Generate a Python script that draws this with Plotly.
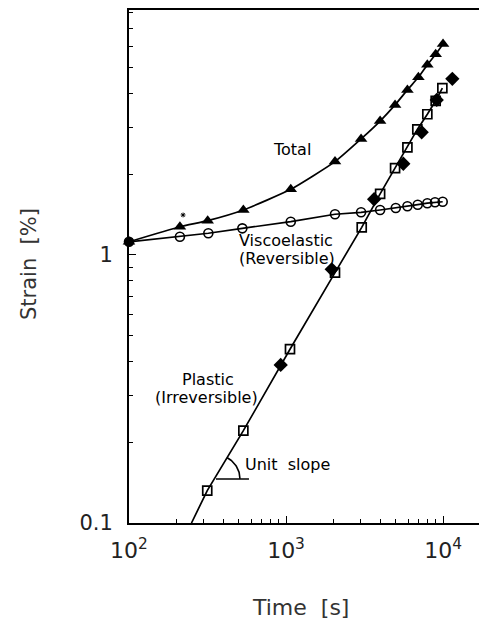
import numpy as np
import plotly.graph_objects as go

# ---------------- data ----------------
time_total = [100, 211, 317, 535, 1072, 2051, 3006, 3975, 4950, 5931, 6966, 7943, 8977, 10000]
strain_total = [1.12, 1.275, 1.343, 1.472, 1.758, 2.23, 2.71, 3.16, 3.63, 4.13, 4.6, 5.12, 5.61, 6.13]

time_visco = [100, 211, 320, 527, 1072, 2051, 3006, 3975, 5000, 5931, 6900, 7943, 8890, 9950]
strain_visco = [1.12, 1.17, 1.205, 1.257, 1.331, 1.419, 1.443, 1.472, 1.497, 1.519, 1.54, 1.56, 1.573, 1.58]

time_plastic = [315, 535, 1060, 2051, 3035, 3975, 4950, 5931, 6858, 7943, 8977, 9900]
strain_plastic = [0.132, 0.221, 0.445, 0.859, 1.268, 1.689, 2.107, 2.52, 2.94, 3.35, 3.76, 4.19]
plastic_line_origin = (250, 0.1)   # where the fitted plastic line meets the bottom axis

time_diamond = [925, 1955, 3640, 5585, 7310, 9120, 11460]
strain_diamond = [0.389, 0.884, 1.614, 2.19, 2.87, 3.79, 4.54]

stray_time = [221]
stray_strain = [1.41]

x_tick_vals = [100, 1000, 10000]
x_tick_text = ["10<sup>2</sup>", "10<sup>3</sup>", "10<sup>4</sup>"]
y_tick_vals = [0.1, 1]
y_tick_text = ["0.1", "1"]
x_minor = [m * d for d in (100, 1000) for m in range(2, 10)]
y_minor = [m * d for d in (0.1, 1) for m in range(2, 10)]

# ---------------- layout geometry ----------------
PAGE_OFFSET = 8            # default body margin of the html page
W, H = 487 - PAGE_OFFSET, 630 - PAGE_OFFSET
ML, MR, MT, MB = 129 - PAGE_OFFSET, 0, 10 - PAGE_OFFSET, 630 - 523
X_RANGE = [2, 4.28]
Y_RANGE = [-1, 0.914]
PW, PH = W - ML - MR, H - MT - MB
px_per_dec_x = PW / (X_RANGE[1] - X_RANGE[0])
px_per_dec_y = PH / (Y_RANGE[1] - Y_RANGE[0])

FONT = "DejaVu Sans"
INK = "black"

fig = go.Figure()

# Total
fig.add_trace(go.Scatter(
    x=time_total, y=strain_total, mode="lines+markers",
    line=dict(color=INK, width=1.7, shape="spline", smoothing=0.5),
    marker=dict(symbol="triangle-up", size=11, color=INK),
    showlegend=False, cliponaxis=False))

# Viscoelastic (first point shared with the total curve, drawn filled)
visco_symbols = ["circle"] + ["circle-open"] * (len(time_visco) - 1)
fig.add_trace(go.Scatter(
    x=time_visco, y=strain_visco, mode="lines+markers",
    line=dict(color=INK, width=1.7),
    marker=dict(symbol=visco_symbols, size=9, color=INK, line=dict(width=1.6, color=INK)),
    showlegend=False, cliponaxis=False))

# Plastic fitted line
fig.add_trace(go.Scatter(
    x=[plastic_line_origin[0]] + time_plastic,
    y=[plastic_line_origin[1]] + strain_plastic, mode="lines",
    line=dict(color=INK, width=1.7), showlegend=False))

# Plastic squares
fig.add_trace(go.Scatter(
    x=time_plastic, y=strain_plastic, mode="markers",
    marker=dict(symbol="square-open", size=9, color=INK, line=dict(width=1.7)),
    showlegend=False, cliponaxis=False))

# Filled diamonds
fig.add_trace(go.Scatter(
    x=time_diamond, y=strain_diamond, mode="markers",
    marker=dict(symbol="diamond", size=11, color=INK),
    showlegend=False, cliponaxis=False))

# stray asterisk
fig.add_trace(go.Scatter(
    x=stray_time, y=stray_strain, mode="markers",
    marker=dict(symbol="asterisk", size=4, color=INK, line=dict(width=1, color=INK)),
    showlegend=False))

# "Unit slope" indicator: arc + horizontal bar
anchor_t, anchor_s = 358, 0.146
arc_r_px, bar_px = 24, 33
xc, yc = np.log10(anchor_t), np.log10(anchor_s)
theta = np.linspace(0, np.deg2rad(62), 30)
arc_x = 10 ** (xc + arc_r_px * np.cos(theta) / px_per_dec_x)
arc_y = 10 ** (yc + arc_r_px * np.sin(theta) / px_per_dec_y)
fig.add_trace(go.Scatter(x=arc_x, y=arc_y, mode="lines",
                         line=dict(color=INK, width=1.6), showlegend=False))
fig.add_trace(go.Scatter(x=[anchor_t, 10 ** (xc + bar_px / px_per_dec_x)],
                         y=[anchor_s, anchor_s], mode="lines",
                         line=dict(color=INK, width=1.6), showlegend=False))

# positions below are given in screen pixels of the 487x630 page
def px_to_log(px, py):
    fx, fy = px - PAGE_OFFSET, py - PAGE_OFFSET
    return (X_RANGE[0] + (fx - ML) / px_per_dec_x,
            Y_RANGE[1] - (fy - MT) / px_per_dec_y)

def px_to_paper(px, py):
    fx, fy = px - PAGE_OFFSET, py - PAGE_OFFSET
    return ((fx - ML) / PW, (H - MB - fy) / PH)

labels = [
    ("Total", 292, 149, "center"),
    ("Viscoelastic", 286, 240, "center"),
    ("(Reversible)", 287, 258, "center"),
    ("Plastic", 208, 379, "center"),
    ("(Irreversible)", 206, 397, "center"),
    ("Unit  slope", 244, 464, "left"),
]
annotations = []
for txt, px, py, anchor in labels:
    lx, ly = px_to_log(px, py)
    annotations.append(dict(x=lx, y=ly, xref="x", yref="y", text=txt, showarrow=False,
                            xanchor=anchor, yanchor="middle", borderpad=0,
                            font=dict(family=FONT, size=16, color=INK)))

tx, ty = px_to_paper(300, 607)
annotations.append(dict(x=tx, y=ty, xref="paper", yref="paper", text="Time  [s]",
                        showarrow=False, xanchor="center", yanchor="middle",
                        font=dict(family=FONT, size=22, color="#333")))
sx, sy = px_to_paper(29, 264)
annotations.append(dict(x=sx, y=sy, xref="paper", yref="paper", text="Strain  [%]",
                        showarrow=False, xanchor="center", yanchor="middle", textangle=-90,
                        font=dict(family=FONT, size=21, color="#333")))

fig.update_layout(
    width=W, height=H,
    margin=dict(l=ML, r=MR, t=MT, b=MB, pad=0),
    paper_bgcolor="white", plot_bgcolor="white",
    annotations=annotations,
    xaxis=dict(type="log", range=X_RANGE, showgrid=False, zeroline=False,
               showline=True, linecolor=INK, linewidth=1.5, mirror=True,
               ticks="inside", ticklen=7, tickwidth=1.2, tickcolor=INK,
               tickvals=x_tick_vals, ticktext=x_tick_text, ticklabelstandoff=7,
               tickfont=dict(family=FONT, size=22, color="#222"),
               minor=dict(tickvals=x_minor, ticks="inside", ticklen=4,
                          tickwidth=1, tickcolor=INK, showgrid=False)),
    yaxis=dict(type="log", range=Y_RANGE, showgrid=False, zeroline=False,
               showline=True, linecolor=INK, linewidth=2, mirror=False,
               ticks="inside", ticklen=7, tickwidth=1.2, tickcolor=INK,
               tickvals=y_tick_vals, ticktext=y_tick_text, ticklabelstandoff=10,
               tickfont=dict(family=FONT, size=21, color="#222"),
               minor=dict(tickvals=y_minor, ticks="inside", ticklen=4,
                          tickwidth=1, tickcolor=INK, showgrid=False)),
)

fig.write_html("out.html")
